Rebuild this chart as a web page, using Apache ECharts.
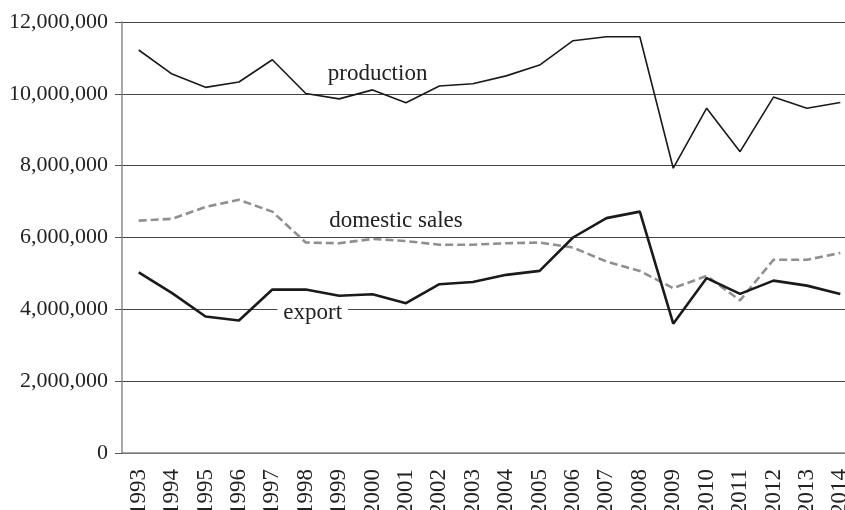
<!DOCTYPE html>
<html>
<head>
<meta charset="utf-8">
<script src="https://cdn.jsdelivr.net/npm/echarts@6/dist/echarts.min.js"></script>
<style>
  html, body { margin: 0; padding: 0; background: #fff; }
  #chart { width: 845px; height: 510px; }
</style>
</head>
<body>
<div id="chart"></div>
<script>
var years = ['1993', '1994', '1995', '1996', '1997', '1998', '1999', '2000', '2001', '2002', '2003',
  '2004', '2005', '2006', '2007', '2008', '2009', '2010', '2011', '2012', '2013', '2014']

var production = [11220000, 10550000, 10180000, 10330000, 10950000, 10010000, 9860000, 10110000, 9750000, 10220000, 10280000,
  10500000, 10800000, 11480000, 11590000, 11590000, 7930000, 9600000, 8390000, 9910000, 9600000, 9760000]

var domesticSales = [6470000, 6520000, 6850000, 7050000, 6720000, 5860000, 5840000, 5960000, 5900000, 5800000, 5800000,
  5840000, 5860000, 5720000, 5330000, 5070000, 4590000, 4930000, 4250000, 5380000, 5380000, 5570000]

var exportVol = [5030000, 4450000, 3800000, 3690000, 4550000, 4550000, 4380000, 4420000, 4170000, 4700000, 4760000,
  4960000, 5070000, 6000000, 6540000, 6720000, 3600000, 4870000, 4430000, 4800000, 4660000, 4430000]

var font = '"Liberation Serif", "DejaVu Serif", serif'

// text annotations placed on the chart next to each line
function note (text, year, value, dx, bg) {
  return {
    silent: true,
    symbol: 'circle',
    symbolSize: 1,
    itemStyle: { color: 'rgba(0,0,0,0)' },
    label: {
      show: true,
      position: 'inside',
      formatter: text,
      fontFamily: font,
      fontSize: 23,
      color: '#222',
      offset: [dx, 0],
      backgroundColor: bg || 'transparent',
      padding: bg ? [0, 6] : 0
    },
    data: [{ coord: [year, value] }]
  }
}

var chart = echarts.init(document.getElementById('chart'))
var option = {
  animation: false,
  grid: {
    left: 122,
    top: 22,
    bottom: 57,
    width: 735,
    containLabel: false,
    outerBoundsMode: 'none'
  },
  xAxis: {
    type: 'category',
    data: years,
    axisLine: { lineStyle: { color: '#8a8a8a', width: 1.5 } },
    axisTick: { length: 7, lineStyle: { color: '#555' } },
    axisLabel: {
      rotate: 90,
      margin: 16,
      fontFamily: font,
      fontSize: 23,
      color: '#222'
    }
  },
  yAxis: {
    type: 'value',
    min: 0,
    max: 12000000,
    interval: 2000000,
    axisLine: { show: true, lineStyle: { color: '#8a8a8a', width: 1.5 } },
    axisTick: { show: true, length: 7, lineStyle: { color: '#555' } },
    axisLabel: {
      margin: 14,
      fontFamily: font,
      fontSize: 22,
      color: '#222',
      formatter: function (v) { return v.toLocaleString('en-US') }
    },
    splitLine: { lineStyle: { color: '#444', width: 1.2 } }
  },
  series: [
    {
      name: 'production',
      type: 'line',
      data: production,
      symbol: 'none',
      lineStyle: { color: '#1a1a1a', width: 1.6 },
      markPoint: note('production', '2000', 10560000, 5)
    },
    {
      name: 'domestic sales',
      type: 'line',
      data: domesticSales,
      symbol: 'none',
      lineStyle: { color: '#8f8f8f', width: 2.6, type: [8, 4] },
      markPoint: note('domestic sales', '2001', 6470000, -10)
    },
    {
      name: 'export',
      type: 'line',
      data: exportVol,
      symbol: 'none',
      lineStyle: { color: '#1a1a1a', width: 2.6 },
      markPoint: note('export', '1998', 3900000, 7, '#fff')
    }
  ]
}
chart.setOption(option)
</script>
</body>
</html>
